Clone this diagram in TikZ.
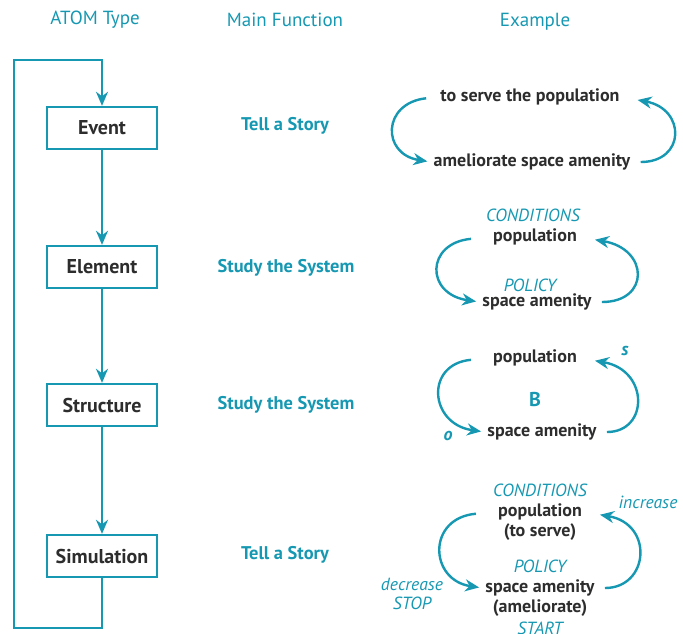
\documentclass[tikz,border=0pt]{standalone}
\usepackage{fontspec}
\setmainfont{PT Sans}
\usetikzlibrary{arrows.meta,positioning}
\definecolor{atomteal}{RGB}{22,152,178}
\definecolor{inkgray}{RGB}{45,45,45}

\begin{document}
\begin{tikzpicture}[x=0.5pt,y=-0.5pt,
    header/.style={text=atomteal,font=\fontsize{9.5}{12}\selectfont},
    atombox/.style={draw=atomteal,line width=1.2pt,minimum width=55pt,minimum height=21pt,
      text=inkgray,font=\fontsize{10}{12}\selectfont\bfseries},
    func/.style={text=atomteal,font=\fontsize{9.2}{11}\selectfont\bfseries},
    word/.style={text=inkgray,font=\fontsize{9}{10}\selectfont\bfseries,inner sep=1pt},
    tag/.style={text=atomteal,font=\fontsize{8.8}{10}\selectfont\itshape,inner sep=1pt},
    flow/.style={draw=atomteal,line width=1.2pt,-{Stealth[length=7pt,width=6pt]}},
    loopl/.style={flow,shorten <=10pt,shorten >=2pt},
    loopr/.style={flow,shorten <=4pt,shorten >=8pt}]
    \clip (0,0) rectangle (683,633);

    % column headings
    \node[header] (hatom) at (95,20) {ATOM Type};
    \node[header] (hfunc) at (285,20) {Main Function};
    \node[header] (hexample) at (535,22) {Example};

    % ATOM types
    \node[atombox] (event) at (102,128) {Event};
    \node[atombox] (element) at (102,267) {Element};
    \node[atombox] (structure) at (102,405) {Structure};
    \node[atombox] (simulation) at (102,556) {Simulation};
    \draw[flow] (event) -- (element);
    \draw[flow] (element) -- (structure);
    \draw[flow] (structure) -- (simulation);
    \coordinate (backbot) at (14,628);
    \coordinate (backtop) at (14,60);
    \draw[flow] (simulation.south) |- (backbot) -- (backtop) -| (event.north);

    % main functions
    \node[func] (fevent) at (285,126) {Tell a Story};
    \node[func] (felement) at (286,268) {Study the System};
    \node[func] (fstructure) at (286,405) {Study the System};
    \node[func] (fsimulation) at (285,555) {Tell a Story};

    % example: event
    \node[word] (serve1) at (530,97) {to serve the population};
    \node[word] (amel1) at (532,162) {ameliorate space amenity};
    \draw[loopl,shorten <=6pt] (serve1.west) .. controls +(-56,6) and +(-50,-8) .. (amel1.west);
    \draw[loopr] (amel1.east) .. controls +(53,0) and +(64,12) .. (serve1.east);

    % example: element
    \node[tag] (cond2) at (533,215) {CONDITIONS};
    \node[word] (pop2) at (535,237) {population};
    \node[tag] (pol2) at (530,285) {POLICY};
    \node[word] (space2) at (537,302) {space amenity};
    \draw[loopl] (pop2.west) .. controls +(-65,6) and +(-55,-8) .. (space2.west);
    \draw[loopr] (space2.east) .. controls +(56,0) and +(70,12) .. (pop2.east);

    % example: structure
    \node[word] (pop3) at (535,358) {population};
    \node[word] (space3) at (542,432) {space amenity};
    \node[text=atomteal,font=\fontsize{10}{12}\selectfont\bfseries] (loop3) at (535,399) {B};
    \draw[loopl] (pop3.west) .. controls +(-66,6) and +(-56,-8) .. (space3.west);
    \draw[loopr] (space3.east) .. controls +(50,0) and +(70,12) .. (pop3.east);
    \node[tag,font=\fontsize{9}{10}\selectfont\bfseries\itshape] (opp3) at (448,436) {o};
    \node[tag,font=\fontsize{9}{10}\selectfont\bfseries\itshape] (same3) at (625,351) {s};

    % example: simulation
    \node[tag] (cond4) at (540,490) {CONDITIONS};
    \node[word] (pop4) at (540,512) {population};
    \node[word] (serve4) at (540,532) {(to serve)};
    \node[tag] (pol4) at (540,566) {POLICY};
    \node[word] (space4) at (540,588) {space amenity};
    \node[word] (amel4) at (540,608) {(ameliorate)};
    \node[tag] (start4) at (540,628) {START};
    \draw[loopl] (pop4.west) .. controls +(-69,6) and +(-54,-8) .. (space4.west);
    \draw[loopr] (space4.east) .. controls +(52,0) and +(70,12) .. (pop4.east);
    \node[tag] (incr4) at (648,502) {increase};
    \node[tag] (decr4) at (412,584) {decrease};
    \node[tag] (stop4) at (412,603) {STOP};
\end{tikzpicture}
\end{document}
